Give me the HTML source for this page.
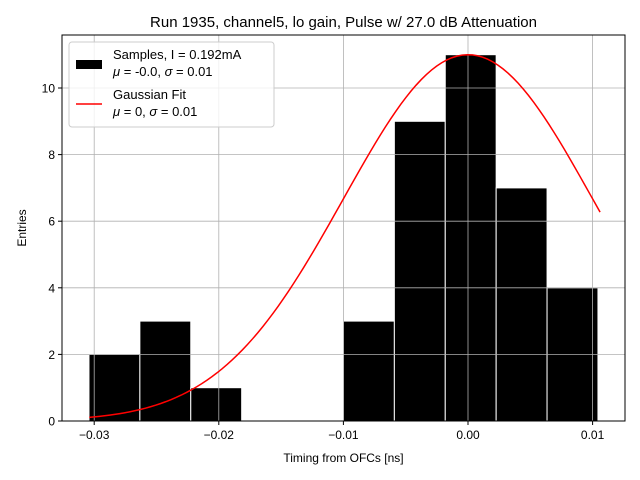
<!DOCTYPE html>
<html><head><meta charset="utf-8"><style>
body{margin:0;background:#fff;}
svg{display:block;font-family:"Liberation Sans","DejaVu Sans",sans-serif;}
</style></head><body>
<svg id="chart" width="640" height="480" viewBox="0 0 640 480">
<rect width="640" height="480" fill="#fff"/>
<text x="343.5" y="27" font-size="15" text-anchor="middle">Run 1935, channel5, lo gain, Pulse w/ 27.0 dB Attenuation</text>
<g id="bars"></g>
<g id="grid"></g>
<g id="fit"></g>
<rect x="62" y="35" width="563" height="386" fill="none" stroke="#000" stroke-width="1"/>
<g id="ticks"></g>
<text x="343.5" y="462" font-size="12" text-anchor="middle">Timing from OFCs [ns]</text>
<text transform="translate(26,228) rotate(-90)" font-size="12" text-anchor="middle">Entries</text>
<g>
<rect x="69" y="42" width="205" height="85" fill="#fff" fill-opacity="0.8" stroke="#ccc" rx="3"/>
<rect x="76" y="60" width="26" height="9" fill="#000"/>
<text x="113" y="59" font-size="13">Samples, I = 0.192mA</text>
<text x="113" y="76" font-size="13"><tspan font-style="italic">μ</tspan> = -0.0, <tspan font-style="italic">σ</tspan> = 0.01</text>
<line x1="76" y1="104" x2="102" y2="104" stroke="red" stroke-width="1.5"/>
<text x="113" y="99" font-size="13">Gaussian Fit</text>
<text x="113" y="116" font-size="13"><tspan font-style="italic">μ</tspan> = 0, <tspan font-style="italic">σ</tspan> = 0.01</text>
</g>
</svg>
<script>
const binStart = -0.03042;
const binWidth = 0.004085;
const counts = [2,3,1,0,0,3,9,11,7,4];
const xTicks = [-0.03,-0.02,-0.01,0.0,0.01];
const xTickLabels = ["−0.03","−0.02","−0.01","0.00","0.01"];
const yTicks = [0,2,4,6,8,10];
const fitAmp = [11];
const fitMu = [0.0];
const fitSigma = [0.01];
const fitRange = [-0.0304, 0.0106];

const NS='http://www.w3.org/2000/svg';
function X(v){return 468 + v*12460;}
function Y(v){return 421 - v*33.3;}
function mk(t,a,p){const e=document.createElementNS(NS,t);for(const k in a)e.setAttribute(k,a[k]);p.appendChild(e);return e;}
const grid=document.getElementById('grid'),bars=document.getElementById('bars'),fit=document.getElementById('fit'),ticks=document.getElementById('ticks');
xTicks.forEach((t,i)=>{
  const g=mk('line',{x1:X(t),x2:X(t),y1:35,y2:421,stroke:'#b0b0b0','stroke-width':0.8},grid);
  
  
  const tk=mk('line',{x1:X(t),x2:X(t),y1:421,y2:425,stroke:'#000'},ticks);
  
  
  const tx=mk('text',{x:X(t),y:439,'font-size':12,'text-anchor':'middle'},ticks);
  tx.textContent=xTickLabels[i];
  
  
});
yTicks.forEach(t=>{
  const g=mk('line',{x1:62,x2:625,y1:Y(t),y2:Y(t),stroke:'#b0b0b0','stroke-width':0.8},grid);
  
  
  const tk=mk('line',{x1:58,x2:62,y1:Y(t),y2:Y(t),stroke:'#000'},ticks);
  
  
  const tx=mk('text',{x:55,y:Y(t)+4.5,'font-size':12,'text-anchor':'end'},ticks);
  tx.textContent=t;
  
  
});
counts.forEach((c,i)=>{
  if(c<=0)return;
  const x0=X(binStart+i*binWidth),x1=X(binStart+(i+1)*binWidth);
  const r=mk('rect',{x:x0,y:Y(c),width:x1-x0,height:Y(0)-Y(c),fill:'#000',stroke:'#fff','stroke-width':1},bars);
  
  
});
let pts=[];
for(let i=0;i<=100;i++){
  const x=fitRange[0]+(fitRange[1]-fitRange[0])*i/100;
  const y=fitAmp[0]*Math.exp(-Math.pow(x-fitMu[0],2)/(2*fitSigma[0]*fitSigma[0]));
  pts.push(X(x).toFixed(2)+','+Y(y).toFixed(2));
}
const pl=mk('polyline',{points:pts.join(' '),fill:'none',stroke:'red','stroke-width':1.5},fit);


</script>
</body></html>
